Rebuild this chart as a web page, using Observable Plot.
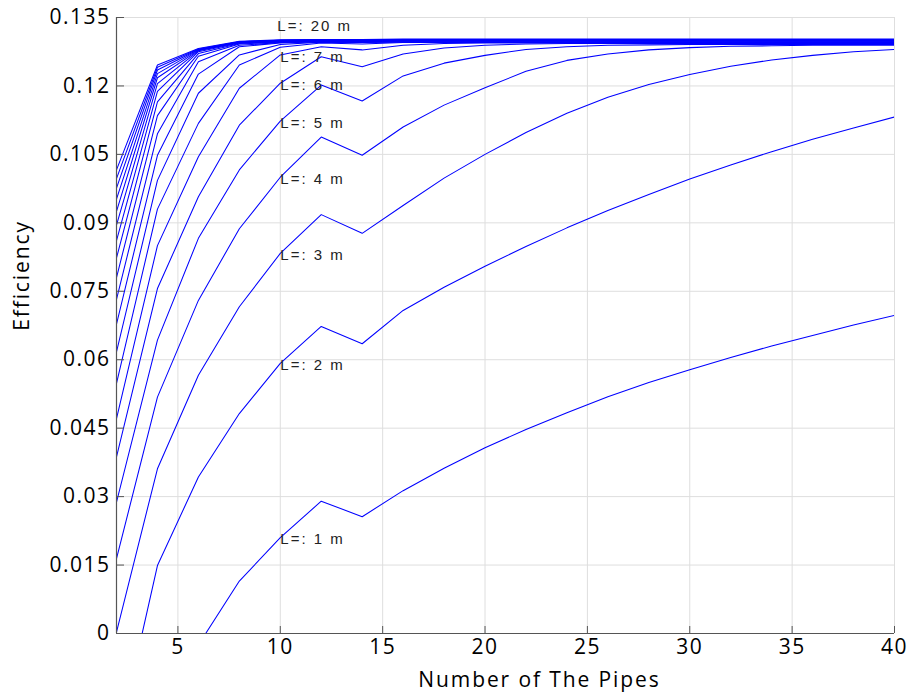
<!DOCTYPE html>
<html>
<head>
<meta charset="utf-8">
<script src="https://cdn.jsdelivr.net/npm/d3@7"></script>
<script src="https://cdn.jsdelivr.net/npm/@observablehq/plot@0.6"></script>
<style>
  body { margin: 0; background: #fff; }
  g[aria-label="x-axis tick label"] text, g[aria-label="y-axis tick label"] text { letter-spacing: 1.5px; }
  g[aria-description="pipe-labels"] text { letter-spacing: 2px; }
  g[aria-description="axis-titles"] text { letter-spacing: 1.9px; }
</style>
</head>
<body>
<div id="chart"></div>
<script>
// Number of pipes (x)
const pipes = [2, 4, 6, 8, 10, 12, 14, 16, 18, 20, 22, 24, 26, 28, 30, 32, 34, 36, 38, 40];

// Efficiency for each pipe length L (m)
const L1  = [-0.060, -0.025, -0.0025, 0.0115, 0.0210, 0.0290, 0.0256, 0.0313, 0.0362, 0.0407, 0.0447, 0.0484, 0.0519, 0.0550, 0.0578, 0.0605, 0.0630, 0.0653, 0.0676, 0.0697];
const L2  = [-0.025, 0.0149, 0.0343, 0.0482, 0.0592, 0.0673, 0.0635, 0.0708, 0.0759, 0.0805, 0.0848, 0.0889, 0.0927, 0.0962, 0.0996, 0.1027, 0.1056, 0.1083, 0.1108, 0.1132];
const L3  = [0.0003, 0.0361, 0.0566, 0.0716, 0.0833, 0.0918, 0.0877, 0.0938, 0.0998, 0.1050, 0.1098, 0.1140, 0.1175, 0.1203, 0.1225, 0.1243, 0.1257, 0.1267, 0.1275, 0.1280];
const L4  = [0.0164, 0.0518, 0.0730, 0.0887, 0.1000, 0.1088, 0.1048, 0.1110, 0.1158, 0.1196, 0.1232, 0.1256, 0.1270, 0.1279, 0.1284, 0.1287, 0.1288, 0.1289, 0.1289, 0.1289];
const L5  = [0.0288, 0.0643, 0.0866, 0.1016, 0.1123, 0.1202, 0.1167, 0.1222, 0.1250, 0.1267, 0.1280, 0.1286, 0.1289, 0.1290, 0.1291, 0.1291, 0.1291, 0.1291, 0.1291, 0.1291];
const L6  = [0.0387, 0.0756, 0.0957, 0.1114, 0.1206, 0.1264, 0.1242, 0.1270, 0.1283, 0.1289, 0.1292, 0.1293, 0.1293, 0.1293, 0.1293, 0.1293, 0.1293, 0.1293, 0.1293, 0.1293];
const L7  = [0.0471, 0.0850, 0.1045, 0.1195, 0.1268, 0.1286, 0.1279, 0.1289, 0.1293, 0.1294, 0.1294, 0.1294, 0.1294, 0.1294, 0.1294, 0.1294, 0.1294, 0.1294, 0.1294, 0.1294];
const L8  = [0.0548, 0.0930, 0.1118, 0.1246, 0.1285, 0.1294, 0.1292, 0.1295, 0.1295, 0.1295, 0.1295, 0.1295, 0.1295, 0.1295, 0.1295, 0.1295, 0.1295, 0.1295, 0.1295, 0.1295];
const L9  = [0.0617, 0.0993, 0.1184, 0.1268, 0.1291, 0.1296, 0.1295, 0.1296, 0.1296, 0.1296, 0.1296, 0.1296, 0.1296, 0.1296, 0.1296, 0.1296, 0.1296, 0.1296, 0.1296, 0.1296];
const L10 = [0.0678, 0.1048, 0.1226, 0.1286, 0.1294, 0.1297, 0.1296, 0.1297, 0.1297, 0.1297, 0.1297, 0.1297, 0.1297, 0.1297, 0.1297, 0.1297, 0.1297, 0.1297, 0.1297, 0.1297];
const L11 = [0.0732, 0.1095, 0.1253, 0.1289, 0.1295, 0.1297, 0.1297, 0.1298, 0.1298, 0.1298, 0.1298, 0.1298, 0.1298, 0.1298, 0.1298, 0.1298, 0.1298, 0.1298, 0.1298, 0.1298];
const L12 = [0.0780, 0.1135, 0.1265, 0.1292, 0.1296, 0.1298, 0.1298, 0.1299, 0.1299, 0.1299, 0.1299, 0.1299, 0.1299, 0.1299, 0.1299, 0.1299, 0.1299, 0.1299, 0.1299, 0.1299];
const L13 = [0.0823, 0.1165, 0.1271, 0.1293, 0.1297, 0.1298, 0.1298, 0.1299, 0.1299, 0.1299, 0.1299, 0.1299, 0.1299, 0.1299, 0.1299, 0.1299, 0.1299, 0.1299, 0.1299, 0.1299];
const L14 = [0.0861, 0.1188, 0.1275, 0.1294, 0.1298, 0.1299, 0.1299, 0.1300, 0.1300, 0.1300, 0.1300, 0.1300, 0.1300, 0.1300, 0.1300, 0.1300, 0.1300, 0.1300, 0.1300, 0.1300];
const L15 = [0.0895, 0.1205, 0.1277, 0.1295, 0.1298, 0.1299, 0.1299, 0.1300, 0.1300, 0.1300, 0.1300, 0.1300, 0.1300, 0.1300, 0.1300, 0.1300, 0.1300, 0.1300, 0.1300, 0.1300];
const L16 = [0.0925, 0.1218, 0.1278, 0.1296, 0.1299, 0.1300, 0.1300, 0.1301, 0.1301, 0.1301, 0.1301, 0.1301, 0.1301, 0.1301, 0.1301, 0.1301, 0.1301, 0.1301, 0.1301, 0.1301];
const L17 = [0.0952, 0.1227, 0.1279, 0.1296, 0.1299, 0.1300, 0.1300, 0.1301, 0.1301, 0.1301, 0.1301, 0.1301, 0.1301, 0.1301, 0.1301, 0.1301, 0.1301, 0.1301, 0.1301, 0.1301];
const L18 = [0.0976, 0.1235, 0.1280, 0.1297, 0.1300, 0.1301, 0.1301, 0.1302, 0.1302, 0.1302, 0.1302, 0.1302, 0.1302, 0.1302, 0.1302, 0.1302, 0.1302, 0.1302, 0.1302, 0.1302];
const L19 = [0.0997, 0.1241, 0.1281, 0.1297, 0.1300, 0.1301, 0.1301, 0.1302, 0.1302, 0.1302, 0.1302, 0.1302, 0.1302, 0.1302, 0.1302, 0.1302, 0.1302, 0.1302, 0.1302, 0.1302];
const L20 = [0.1016, 0.1246, 0.1282, 0.1298, 0.1301, 0.1302, 0.1302, 0.1303, 0.1303, 0.1303, 0.1303, 0.1303, 0.1303, 0.1303, 0.1303, 0.1303, 0.1303, 0.1303, 0.1303, 0.1303];

const lengths = [1, 2, 3, 4, 5, 6, 7, 8, 9, 10, 11, 12, 13, 14, 15, 16, 17, 18, 19, 20];
const series = [L1, L2, L3, L4, L5, L6, L7, L8, L9, L10, L11, L12, L13, L14, L15, L16, L17, L18, L19, L20];

// Labelled curves, written at N = 10 pipes
const labeledLengths = [1, 2, 3, 4, 5, 6, 7, 20];
const labelAtPipes = 10;

const xTicks = [5, 10, 15, 20, 25, 30, 35, 40];
const yTicks = [0, 0.015, 0.03, 0.045, 0.06, 0.075, 0.09, 0.105, 0.12, 0.135];
const yTickLabels = ["0", "0.015", "0.03", "0.045", "0.06", "0.075", "0.09", "0.105", "0.12", "0.135"];
const xTitle = "Number of The Pipes";
const yTitle = "Efficiency";

const rows = lengths.flatMap((L, i) => pipes.map((n, j) => ({L, n, eff: series[i][j]})));
const labelRows = labeledLengths.map(L => ({
  L, n: labelAtPipes,
  eff: series[lengths.indexOf(L)][pipes.indexOf(labelAtPipes)],
  text: `L=: ${L} m`
}));
const yLabelMap = new Map(yTicks.map((t, i) => [t, yTickLabels[i]]));

const labelFont = {fontFamily: "'Liberation Sans', Arial, sans-serif", fontSize: 15, fill: "#222", ariaDescription: "pipe-labels"};

const chart = Plot.plot({
  width: 911,
  height: 693,
  marginLeft: 116,
  marginRight: 17,
  marginTop: 17,
  marginBottom: 60,
  style: {fontFamily: "'Open Sans', sans-serif", background: "#fff", color: "#000", overflow: "visible"},
  x: {domain: [2, 40]},
  y: {domain: [0, 0.135]},
  marks: [
    Plot.gridX(xTicks, {stroke: "#dedede", strokeOpacity: 1}),
    Plot.gridY(yTicks, {stroke: "#dedede", strokeOpacity: 1}),
    Plot.line(rows, {x: "n", y: "eff", z: "L", stroke: "#0000ff", strokeWidth: 1.05, clip: true}),
    Plot.text(labelRows.filter(d => d.L !== 20), {
      x: "n", y: "eff", text: "text", textAnchor: "start", dy: 2, ...labelFont
    }),
    Plot.text(labelRows.filter(d => d.L === 20), {
      x: "n", y: "eff", text: "text", textAnchor: "start", dy: -14, dx: -3, ...labelFont
    }),
    Plot.ruleX([2], {stroke: "#555", strokeWidth: 1.2}),
    Plot.ruleY([0], {stroke: "#555", strokeWidth: 1.2}),
    Plot.axisX(xTicks, {tickSize: -7, tickPadding: 13, fontSize: 21, stroke: "#555", fill: "#000", label: null}),
    Plot.axisY(yTicks, {tickSize: -8, tickPadding: 14, fontSize: 21, stroke: "#555", fill: "#000", label: null,
      tickFormat: d => yLabelMap.get(d)}),
    Plot.text([yTitle], {frameAnchor: "left", textAnchor: "middle", lineAnchor: "middle", dx: -94, dy: -50, rotate: -90,
      fontSize: 21, fill: "#000", ariaDescription: "axis-titles"}),
    Plot.text([xTitle], {frameAnchor: "bottom", textAnchor: "middle", lineAnchor: "middle", dx: 34, dy: 47,
      fontSize: 21, fill: "#000", ariaDescription: "axis-titles"})
  ]
});
document.getElementById("chart").appendChild(chart);
</script>
</body>
</html>
